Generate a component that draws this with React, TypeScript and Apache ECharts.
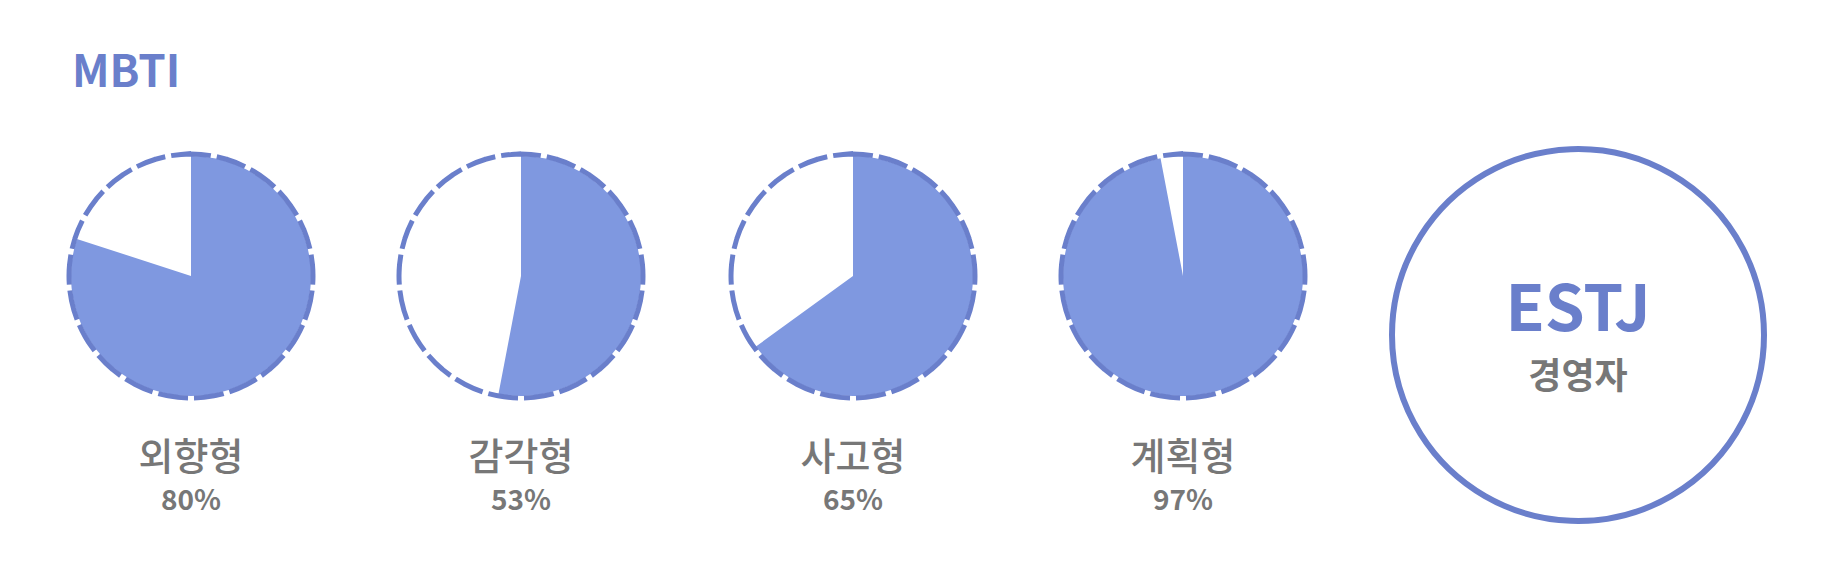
import React, { useEffect, useRef } from "react";
import * as echarts from "echarts";

const traits = ["외향형", "감각형", "사고형", "계획형"];
const percents = [80, 53, 65, 97];
const typeCode = "ESTJ";
const typeName = "경영자";

const centersX = [183, 513, 845, 1175];
const centerY = 268;
const FILL = "#7f98e0";
const LINE = "#6a7fcb";
const FONT = "'Noto Sans CJK KR', 'Noto Sans', sans-serif";

const App: React.FC = () => {
  const chartRef = useRef<HTMLDivElement | null>(null);

  useEffect(() => {
    const dom = chartRef.current;
    if (!dom) return;
    const chart = echarts.init(dom, undefined, { renderer: "svg" });

    const series: any[] = [];
    const texts: any[] = [];
    percents.forEach((p, i) => {
      series.push({
        type: "pie",
        center: [centersX[i], centerY],
        radius: [0, 120],
        startAngle: 90,
        clockwise: true,
        silent: true,
        label: { show: false },
        labelLine: { show: false },
        data: [
          { value: p, itemStyle: { color: FILL } },
          { value: 100 - p, itemStyle: { color: "transparent" } },
        ],
      });
      series.push({
        type: "pie",
        center: [centersX[i], centerY],
        radius: [122, 122],
        silent: true,
        label: { show: false },
        labelLine: { show: false },
        data: [
          {
            value: 1,
            itemStyle: {
              color: "transparent",
              borderColor: LINE,
              borderWidth: 5,
              borderType: [20, 16],
            },
          },
        ],
      });
      texts.push({
        type: "text",
        x: centersX[i],
        y: 445,
        style: { text: traits[i], fill: "#777", font: `500 38px ${FONT}`, textAlign: "center", textVerticalAlign: "middle" },
      });
      texts.push({
        type: "text",
        x: centersX[i],
        y: 490,
        style: { text: `${p}%`, fill: "#777", font: `600 28px ${FONT}`, textAlign: "center", textVerticalAlign: "middle" },
      });
    });

    chart.setOption({
      animation: false,
      series,
      graphic: [
        {
          type: "text",
          x: 64,
          y: 60,
          style: { text: "MBTI", fill: LINE, font: `600 44px ${FONT}`, textVerticalAlign: "middle" },
        },
        {
          type: "circle",
          shape: { cx: 1570, cy: 327, r: 186 },
          style: { fill: "#fff", stroke: LINE, lineWidth: 6 },
        },
        {
          type: "text",
          x: 1570,
          y: 295,
          style: { text: typeCode, fill: LINE, font: `700 64px ${FONT}`, textAlign: "center", textVerticalAlign: "middle" },
        },
        {
          type: "text",
          x: 1570,
          y: 365,
          style: { text: typeName, fill: "#777", font: `600 36px ${FONT}`, textAlign: "center", textVerticalAlign: "middle" },
        },
        ...texts,
      ],
    });

    return () => chart.dispose();
  }, []);

  return <div ref={chartRef} style={{ width: "100%", height: "567px" }} />;
};

export default App;
